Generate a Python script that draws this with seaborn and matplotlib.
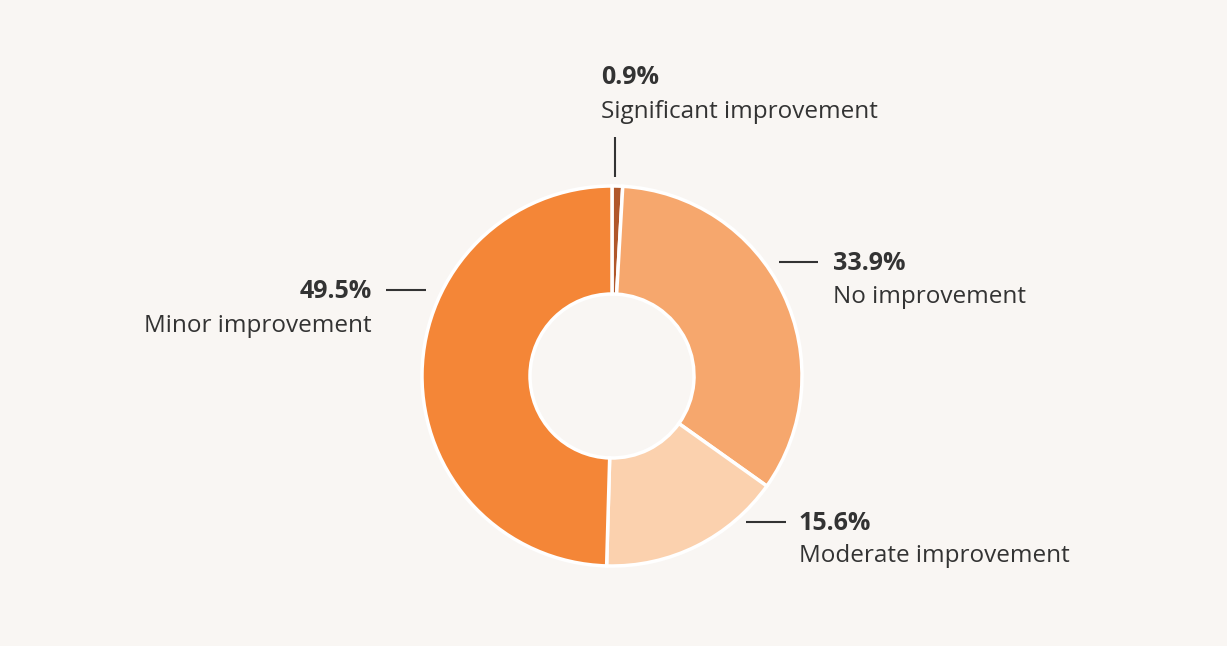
import matplotlib
matplotlib.use("Agg")
import matplotlib.pyplot as plt
import seaborn as sns

# data (clockwise from 12 o'clock)
categories = ["Significant improvement", "No improvement", "Moderate improvement", "Minor improvement"]
shares = [0.9, 33.9, 15.6, 49.5]
colors = ["#b0572a", "#f6a76d", "#fbd1ae", "#f48637"]

bg = "#f9f6f3"
txt = "#333333"

sns.set_theme(style="white")
plt.rcParams["font.family"] = ["Open Sans", "DejaVu Sans"]

fig = plt.figure(figsize=(12.27, 6.46), dpi=100, facecolor=bg)
ax = fig.add_axes([0, 0, 1, 1])
ax.set_facecolor(bg)

H = 646
ax.pie(shares, colors=colors, startangle=90, counterclock=False,
       center=(612, H - 376), radius=190, frame=True,
       wedgeprops=dict(width=108, edgecolor="white", linewidth=2.5))
ax.set_xlim(0, 1227)
ax.set_ylim(0, 646)
ax.set_aspect("equal")
ax.axis("off")

# label placement: (x, pct y, name y, align, line xs, line ys)
place = {
    "Significant improvement": (601, 78, 112, "left", (615, 615), (137, 177)),
    "No improvement": (833, 264, 297, "left", (779, 818), (262, 262)),
    "Moderate improvement": (799, 523, 556, "left", (746, 786), (522, 522)),
    "Minor improvement": (372, 292, 326, "right", (386, 426), (290, 290)),
}

for cat, val in zip(categories, shares):
    x, yp, yn, ha, lx, ly = place[cat]
    ax.text(x, H - yp, f"{val:.1f}%", ha=ha, va="center", fontsize=18,
            fontweight="bold", color=txt)
    ax.text(x, H - yn, cat, ha=ha, va="center", fontsize=17.5, color=txt)
    ax.plot(lx, [H - ly[0], H - ly[1]], color=txt, lw=1.5, solid_capstyle="butt")

fig.savefig("out.png", dpi=100, facecolor=bg)
